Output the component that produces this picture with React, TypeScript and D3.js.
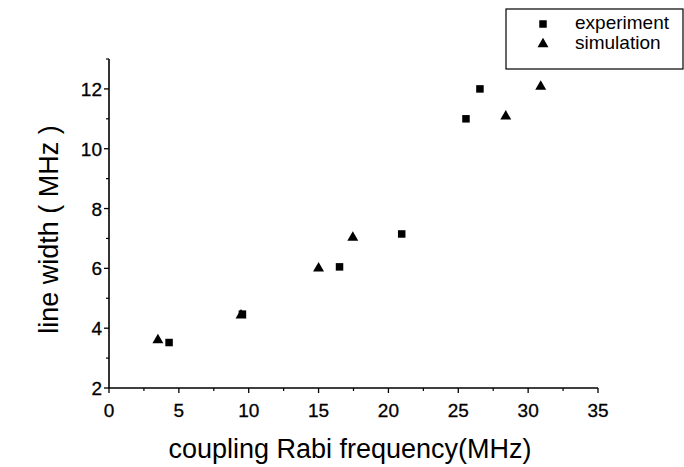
import React from "react";
import * as d3 from "d3";

const expX = [4.3, 9.55, 16.5, 20.95, 25.55, 26.55];
const expY = [3.52, 4.47, 6.05, 7.15, 11.0, 12.0];
const simX = [3.5, 9.45, 15.0, 17.45, 28.4, 30.9];
const simY = [3.6, 4.43, 6.0, 7.03, 11.08, 12.08];

const xTicks = [0, 5, 10, 15, 20, 25, 30, 35];
const yTicks = [2, 4, 6, 8, 10, 12];
const legendItems = ["experiment", "simulation"];

const W = 684, H = 467;
const FONT = "Liberation Sans, Arial, sans-serif";

export default function App() {
  const x = d3.scaleLinear().domain([0, 35]).range([109, 598]);
  const y = d3.scaleLinear().domain([2, 13]).range([388, 59]);

  const tri = d3.symbol().type(d3.symbolTriangle).size(52)();
  const sq = 7.5;

  const xMinor = d3.range(0, 35.01, 2.5).filter(v => v % 5 !== 0);
  const yMinor = d3.range(3, 13.01, 2);

  const exp = expX.map((v, i) => ({ x: v, y: expY[i] }));
  const sim = simX.map((v, i) => ({ x: v, y: simY[i] }));

  return (
    <svg width={W} height={H} style={{ position: "fixed", left: 0, top: 0, background: "#fff" }}
      fontFamily={FONT}>
      {/* axes */}
      <line x1={x(0)} x2={x(35)} y1={y(2)} y2={y(2)} stroke="#000" strokeWidth={1.6} />
      <line x1={x(0)} x2={x(0)} y1={y(2)} y2={y(13)} stroke="#000" strokeWidth={1.6} />

      {xTicks.map(t => (
        <g key={"xt" + t}>
          <line x1={x(t)} x2={x(t)} y1={y(2)} y2={y(2) + 5} stroke="#000" strokeWidth={1.3} />
          <text x={x(t)} y={y(2) + 29} textAnchor="middle" fontSize={19} stroke="#000" strokeWidth={0.3}>{t}</text>
        </g>
      ))}
      {xMinor.map(t => (
        <line key={"xm" + t} x1={x(t)} x2={x(t)} y1={y(2)} y2={y(2) + 3} stroke="#000" strokeWidth={1.2} />
      ))}

      {yTicks.map(t => (
        <g key={"yt" + t}>
          <line x1={x(0) - 5} x2={x(0)} y1={y(t)} y2={y(t)} stroke="#000" strokeWidth={1.3} />
          <text x={x(0) - 7} y={y(t) + 7} textAnchor="end" fontSize={19} stroke="#000" strokeWidth={0.3}>{t}</text>
        </g>
      ))}
      {yMinor.map(t => (
        <line key={"ym" + t} x1={x(0) - 3} x2={x(0)} y1={y(t)} y2={y(t)} stroke="#000" strokeWidth={1.2} />
      ))}

      {/* axis titles */}
      <text x={350} y={458} textAnchor="middle" fontSize={27}>coupling Rabi frequency(MHz)</text>
      <text transform={`translate(58,${y(7.3)}) rotate(-90)`} textAnchor="middle" fontSize={27}>line width ( MHz )</text>

      {/* points */}
      {sim.map((d, i) => (
        <path key={"s" + i} d={tri} transform={`translate(${x(d.x)},${y(d.y)})`} fill="#000" />
      ))}
      {exp.map((d, i) => (
        <rect key={"e" + i} x={x(d.x) - sq / 2} y={y(d.y) - sq / 2} width={sq} height={sq} fill="#000" />
      ))}

      {/* legend */}
      <rect x={506} y={9} width={177} height={60} fill="#fff" stroke="#000" strokeWidth={1.2} />
      {legendItems.map((name, i) => (
        <g key={name} transform={`translate(0,${24 + i * 20})`}>
          {i === 0
            ? <rect x={543 - sq / 2} y={-sq / 2} width={sq} height={sq} fill="#000" />
            : <path d={tri} transform="translate(543,0)" fill="#000" />}
          <text x={575} y={5} fontSize={19}>{name}</text>
        </g>
      ))}
    </svg>
  );
}
